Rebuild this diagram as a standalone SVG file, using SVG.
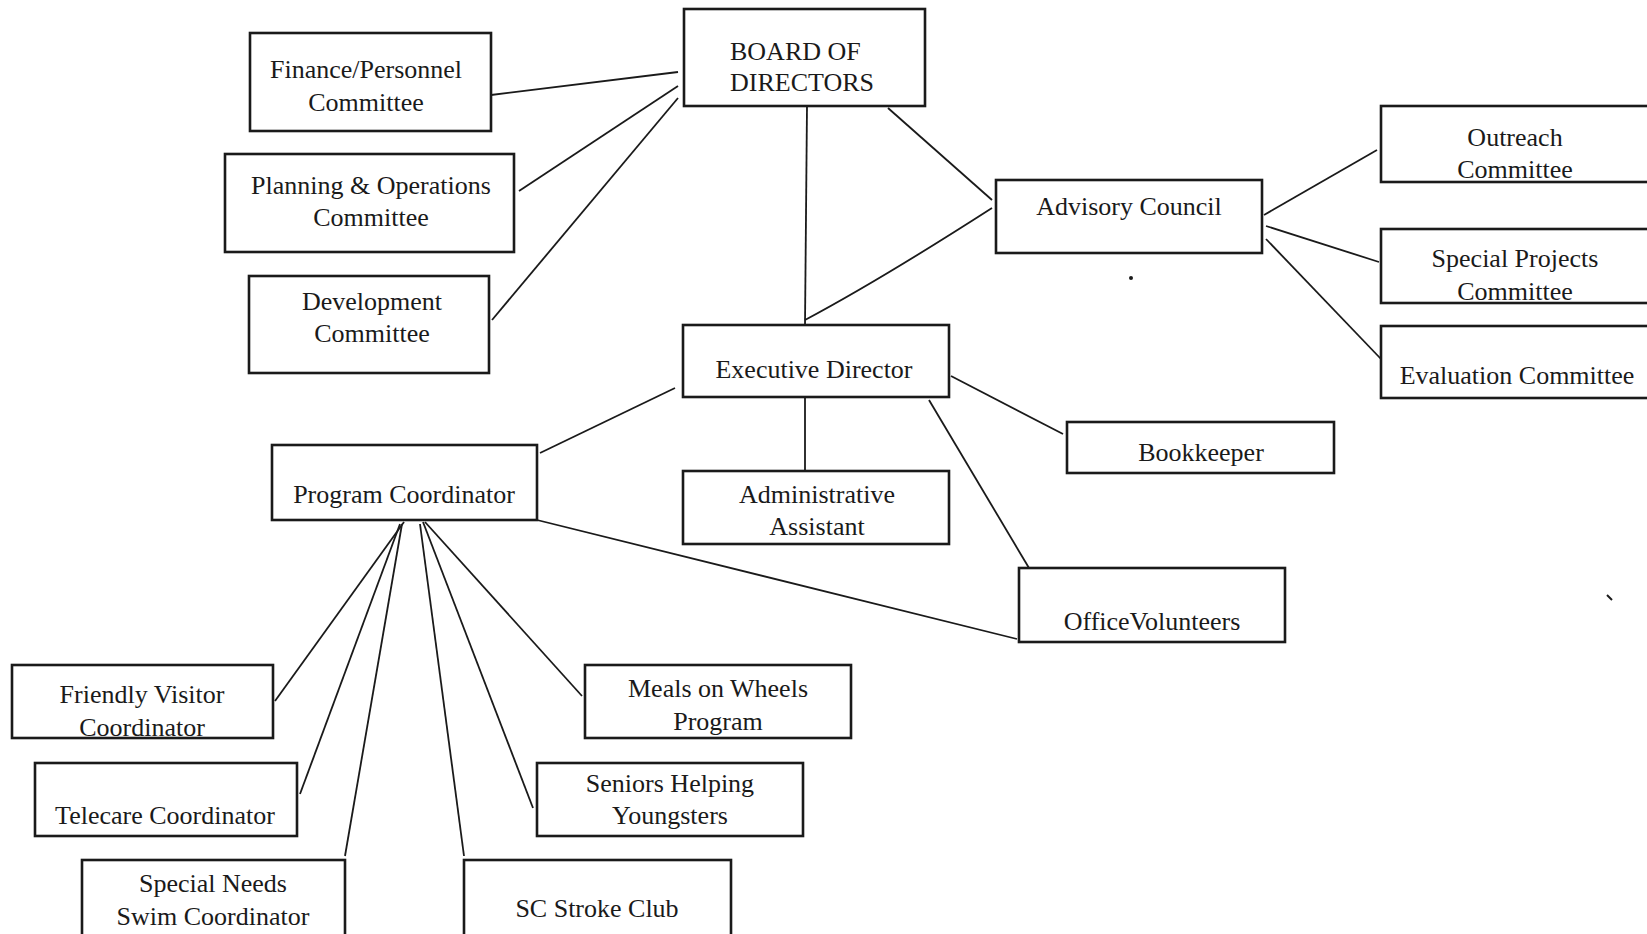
<svg xmlns="http://www.w3.org/2000/svg" width="1647" height="934" viewBox="0 0 1647 934">
<style>
.box{fill:#fff;stroke:#1a1a1a;stroke-width:2.6}
.t{font-family:"Liberation Serif","Times New Roman",serif;font-size:26px;fill:#1a1a1a;text-anchor:middle}
.c line,.c path{stroke:#1a1a1a;stroke-width:1.8;fill:none}
</style>
<rect width="1647" height="934" fill="#fff"/>
<g class="c" id="connectors">
<line x1="491" y1="95" x2="678" y2="72"/>
<line x1="519" y1="191" x2="678" y2="86"/>
<line x1="492" y1="320" x2="678" y2="98"/>
<line x1="807" y1="106" x2="805" y2="325"/>
<line x1="888" y1="108" x2="992" y2="200"/>
<path d="M805 320 Q880 280 992 208"/>
<line x1="1264" y1="215" x2="1377" y2="150"/>
<line x1="1266" y1="226" x2="1379" y2="262"/>
<line x1="1266" y1="239" x2="1381" y2="359"/>
<line x1="951" y1="376" x2="1063" y2="434"/>
<line x1="929" y1="400" x2="1029" y2="568"/>
<line x1="805" y1="397" x2="805" y2="471"/>
<line x1="675" y1="388" x2="540" y2="453"/>
<line x1="537" y1="520" x2="1017" y2="639"/>
<line x1="404" y1="522" x2="275" y2="701"/>
<line x1="400" y1="524" x2="300" y2="794"/>
<line x1="402" y1="524" x2="345" y2="856"/>
<line x1="420" y1="524" x2="464" y2="856"/>
<line x1="423" y1="522" x2="533" y2="808"/>
<line x1="425" y1="522" x2="582" y2="696"/>
</g>
<g id="board"><rect class="box" x="684" y="9" width="241" height="97"/><text class="t" x="730" y="60" style="text-anchor:start">BOARD OF</text><text class="t" x="730" y="91" style="text-anchor:start">DIRECTORS</text></g>
<g id="finance"><rect class="box" x="250" y="33" width="241" height="98"/><text class="t" x="366" y="78">Finance/Personnel</text><text class="t" x="366" y="111">Committee</text></g>
<g id="planning"><rect class="box" x="225" y="154" width="289" height="98"/><text class="t" x="371" y="194">Planning &amp; Operations</text><text class="t" x="371" y="226">Committee</text></g>
<g id="development"><rect class="box" x="249" y="276" width="240" height="97"/><text class="t" x="372" y="310">Development</text><text class="t" x="372" y="342">Committee</text></g>
<g id="executive"><rect class="box" x="683" y="325" width="266" height="72"/><text class="t" x="814" y="378">Executive Director</text></g>
<g id="advisory"><rect class="box" x="996" y="180" width="266" height="73"/><text class="t" x="1129" y="215">Advisory Council</text></g>
<g id="outreach"><rect class="box" x="1381" y="106" width="270" height="76"/><text class="t" x="1515" y="146">Outreach</text><text class="t" x="1515" y="178">Committee</text></g>
<g id="specialprojects"><rect class="box" x="1381" y="229" width="270" height="74"/><text class="t" x="1515" y="267">Special Projects</text><text class="t" x="1515" y="300">Committee</text></g>
<g id="evaluation"><rect class="box" x="1381" y="326" width="270" height="72"/><text class="t" x="1517" y="384">Evaluation Committee</text></g>
<g id="bookkeeper"><rect class="box" x="1067" y="422" width="267" height="51"/><text class="t" x="1201" y="461">Bookkeeper</text></g>
<g id="admin"><rect class="box" x="683" y="471" width="266" height="73"/><text class="t" x="817" y="503">Administrative</text><text class="t" x="817" y="535">Assistant</text></g>
<g id="program"><rect class="box" x="272" y="445" width="265" height="75"/><text class="t" x="404" y="503">Program Coordinator</text></g>
<g id="volunteers"><rect class="box" x="1019" y="568" width="266" height="74"/><text class="t" x="1152" y="630">OfficeVolunteers</text></g>
<g id="friendly"><rect class="box" x="12" y="665" width="261" height="73"/><text class="t" x="142" y="703">Friendly Visitor</text><text class="t" x="142" y="736">Coordinator</text></g>
<g id="telecare"><rect class="box" x="35" y="763" width="262" height="73"/><text class="t" x="165" y="824">Telecare Coordinator</text></g>
<g id="swim"><rect class="box" x="82" y="860" width="263" height="78"/><text class="t" x="213" y="892">Special Needs</text><text class="t" x="213" y="925">Swim Coordinator</text></g>
<g id="stroke"><rect class="box" x="464" y="860" width="267" height="78"/><text class="t" x="597" y="917">SC Stroke Club</text></g>
<g id="seniors"><rect class="box" x="537" y="763" width="266" height="73"/><text class="t" x="670" y="792">Seniors Helping</text><text class="t" x="670" y="824">Youngsters</text></g>
<g id="meals"><rect class="box" x="585" y="665" width="266" height="73"/><text class="t" x="718" y="697">Meals on Wheels</text><text class="t" x="718" y="730">Program</text></g>
<circle cx="1131" cy="278" r="2" fill="#1a1a1a"/>
<line x1="1607" y1="595" x2="1612" y2="600" stroke="#1a1a1a" stroke-width="2"/>
</svg>
